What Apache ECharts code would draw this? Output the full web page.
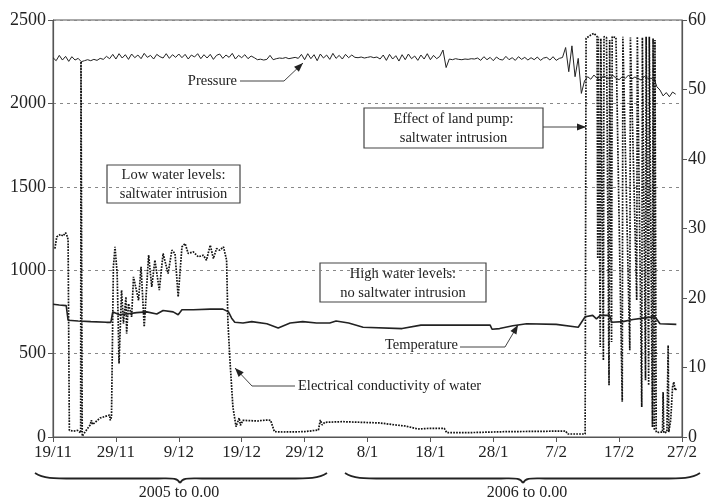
<!DOCTYPE html>
<html>
<head>
<meta charset="utf-8">
<script src="https://cdn.jsdelivr.net/npm/echarts@6/dist/echarts.min.js"></script>
<style>
  html, body { margin: 0; padding: 0; background: #fff; }
  #chart { width: 709px; height: 501px; }
</style>
</head>
<body>
<div id="chart"></div>
<script>
// x axis: days since 19/11/2005
const xLabels = ["19/11", "29/11", "9/12", "19/12", "29/12", "8/1", "18/1", "28/1", "7/2", "17/2", "27/2"];
const leftTicks = [0, 500, 1000, 1500, 2000, 2500];
const rightTicks = [0, 10, 20, 30, 40, 50, 60];

// pressure, one reading every half day (left axis)
const pressureStep = 0.5;
const pressureValues = [
  2274, 2256, 2288, 2260, 2282, 2252, 2280, 2260, 2270,
  2250, 2256, 2262, 2256, 2264, 2258, 2270, 2264,
  2282, 2268, 2294, 2266, 2298, 2272, 2292, 2264, 2296, 2274, 2290, 2268,
  2300, 2276, 2288, 2266, 2294, 2280, 2272, 2298, 2270, 2292, 2276, 2296,
  2274, 2294, 2266, 2290, 2278, 2298, 2268, 2292, 2272, 2294, 2264, 2288,
  2296, 2270, 2290, 2276, 2300, 2266, 2288, 2274, 2292, 2268, 2284, 2274,
  2262, 2265, 2260, 2264, 2288,
  2262, 2268, 2272, 2270, 2275, 2268, 2272, 2276, 2270,
  2294, 2262, 2298, 2268, 2292, 2256, 2296, 2272, 2290, 2264, 2300, 2270, 2288, 2266, 2294, 2274, 2290,
  2276, 2274, 2278, 2272, 2276, 2280, 2274, 2278,
  2266, 2290, 2258, 2294, 2266, 2286, 2254, 2292, 2262, 2296, 2268, 2284, 2258, 2290, 2266, 2298, 2262, 2288, 2268, 2282,
  2320, 2215,
  2266, 2262, 2268, 2264, 2262, 2266, 2264, 2268, 2266,
  2272, 2258, 2280, 2262, 2276, 2256, 2278, 2264, 2260, 2282, 2262, 2274, 2258, 2280,
  2264, 2276, 2260, 2274, 2262, 2278, 2258, 2272, 2276, 2260, 2280, 2258, 2270,
  2275, 2335, 2190, 2345, 2160, 2270, 2060, 2135,
  2160, 2145, 2170, 2150, 2140, 2165, 2155, 2148, 2168, 2152, 2142, 2160, 2150, 2170, 2146, 2158, 2150, 2140, 2162, 2152, 2148, 2155,
  2100, 2080, 2045, 2065, 2040, 2068, 2055
];

// electrical conductivity [day, value] (left axis)
const conductivity = [
  [0.3, 1130], [0.6, 1200], [1.2, 1215], [1.6, 1205], [2.0, 1225], [2.3, 1200], [2.4, 1180],
  [2.6, 40], [3.2, 35], [3.9, 40], [4.4, 25], [4.45, 2250], [4.6, 2250], [4.65, 5],
  [4.9, 20], [5.9, 72], [6.1, 100], [6.3, 75], [7.5, 114], [9.0, 132], [9.1, 100], [9.3, 120],
  [9.6, 1020], [9.86, 1140], [10.2, 980], [10.5, 440], [10.9, 880], [11.2, 680], [11.6, 840],
  [11.7, 620], [12.0, 800], [12.5, 720], [12.8, 960], [13.6, 820], [14.0, 1020], [14.5, 660],
  [15.2, 1090], [15.7, 900], [16.2, 1060], [16.9, 880], [17.5, 1100], [18.3, 980], [18.9, 1120],
  [19.4, 1100], [19.9, 840], [20.5, 1140], [21.0, 1160], [21.5, 1100], [22.3, 1110], [23.1, 1080],
  [23.9, 1090], [24.4, 1060], [25.0, 1150], [25.5, 1070], [26.0, 1130], [26.5, 1120], [27.1, 1140],
  [27.6, 1060], [27.8, 700], [28.1, 480], [28.6, 180], [29.1, 62], [29.6, 114], [29.8, 70],
  [30.2, 100], [31.3, 98], [32.5, 96], [34.0, 102], [34.6, 100], [35.2, 32], [36.5, 30], [40.0, 32],
  [42.2, 42], [42.5, 102], [42.8, 72], [43.2, 88], [46.0, 92], [49.0, 88], [52.0, 84], [54.5, 72],
  [56.0, 66], [58.0, 48], [60.0, 52], [62.2, 52], [62.6, 26], [66.0, 26], [72.0, 32], [78.0, 34],
  [81.5, 36], [81.8, 18], [84.6, 18],
  [84.75, 2390], [85.5, 2410], [86.0, 2420], [86.5, 2400], [86.6, 1070], [86.7, 2400], [87.0, 540],
  [87.1, 2390], [87.5, 460], [87.6, 2400], [88.0, 2395], [88.4, 310], [88.5, 2380], [88.8, 570],
  [88.9, 2400], [89.5, 2395], [90.5, 212], [90.6, 2400], [91.7, 520], [91.8, 2395], [92.8, 820],
  [92.9, 2400], [93.6, 180], [93.7, 2395], [94.2, 340], [94.3, 2400], [94.7, 310], [94.8, 2400],
  [95.3, 60], [95.4, 2390], [95.6, 40], [95.7, 2380], [95.9, 30], [96.3, 28], [96.9, 30],
  [97.0, 270], [97.1, 25], [97.6, 30], [97.8, 550], [97.9, 30], [98.2, 100], [98.5, 300],
  [98.7, 330], [98.9, 280], [99.1, 290]
];

// temperature [day, value] (right axis)
const temperature = [
  [0, 19.1], [1.0, 19.0], [2.1, 18.9], [2.4, 16.8], [4.0, 16.7], [6.0, 16.6], [8.5, 16.5], [9.2, 16.5],
  [9.5, 18.0], [10.6, 17.6], [11.7, 17.7], [13.3, 17.9], [14.9, 18.0], [16.5, 17.7], [17.5, 18.2],
  [19.1, 18.0], [19.9, 17.6], [20.5, 18.3], [22.3, 18.3], [25.0, 18.4], [27.0, 18.4], [27.9, 18.0],
  [28.4, 17.1], [28.9, 16.5], [30.2, 16.4], [31.6, 16.6], [34.0, 16.3], [35.8, 15.7], [37.7, 16.4],
  [39.7, 16.6], [41.9, 16.4], [44.0, 16.4], [45.0, 16.7], [47.0, 16.4], [49.3, 15.8], [55.5, 15.6],
  [58.5, 16.1], [62.0, 16.1], [65.6, 16.1], [69.5, 16.1], [69.8, 15.5], [71.0, 15.6], [73.1, 16.0],
  [75.3, 16.3], [80.0, 16.2], [83.5, 15.8], [84.6, 17.3], [85.8, 17.5], [86.4, 17.0], [87.0, 17.5],
  [88.5, 17.5], [88.8, 16.5], [90.6, 16.6], [92.2, 16.9], [93.8, 17.1], [95.7, 17.3], [96.5, 16.3],
  [99.1, 16.2]
];

const serif = '"Liberation Serif", "DejaVu Serif", serif';
const ink = "#222";
const axisGrey = "#555";

const pressure = pressureValues.map((v, i) => [i * pressureStep, v]);

function arrowHead(tipX, tipY, fromX, fromY) {
  const a = Math.atan2(tipY - fromY, tipX - fromX);
  const len = 9, half = 3.5;
  const bx = tipX - len * Math.cos(a), by = tipY - len * Math.sin(a);
  return {
    type: "polygon",
    shape: { points: [[tipX, tipY], [bx + half * Math.sin(a), by - half * Math.cos(a)], [bx - half * Math.sin(a), by + half * Math.cos(a)]] },
    style: { fill: ink },
  };
}

function leader(points) {
  const n = points.length;
  return [
    { type: "polyline", shape: { points: points }, style: { stroke: "#444", lineWidth: 1, fill: null } },
    arrowHead(points[n - 1][0], points[n - 1][1], points[n - 2][0], points[n - 2][1]),
  ];
}

function box(x, y, w, h, text) {
  return [
    { type: "rect", shape: { x: x, y: y, width: w, height: h }, style: { fill: "#fff", stroke: "#444", lineWidth: 1.2 } },
    { type: "text", style: { text: text, x: x + w / 2, y: y + h / 2 + 1, align: "center", verticalAlign: "middle", font: "14.5px " + serif, lineHeight: 19, fill: ink } },
  ];
}

function label(text, x, y, align) {
  return { type: "text", style: { text: text, x: x, y: y, align: align, verticalAlign: "middle", font: "14.5px " + serif, fill: ink } };
}

function curve(x1, y1, cx1, cy1, cx2, cy2, x2, y2) {
  return { type: "bezierCurve", shape: { x1: x1, y1: y1, cpx1: cx1, cpy1: cy1, cpx2: cx2, cpy2: cy2, x2: x2, y2: y2 }, style: { stroke: ink, lineWidth: 1.8, fill: null } };
}

function straight(x1, y1, x2, y2) {
  return { type: "line", shape: { x1: x1, y1: y1, x2: x2, y2: y2 }, style: { stroke: ink, lineWidth: 1.8 } };
}

function brace(x1, xc, x2) {
  const y0 = 473, y1 = 478.5, tip = 483;
  return [
    curve(x1, y0, x1 + 8, y1, x1 + 18, y1, x1 + 40, y1),
    straight(x1 + 40, y1, xc - 22, y1),
    curve(xc - 22, y1, xc - 8, y1, xc - 3, y1 - 1, xc, tip),
    curve(xc, tip, xc + 3, y1 - 1, xc + 8, y1, xc + 22, y1),
    straight(xc + 22, y1, x2 - 40, y1),
    curve(x2 - 40, y1, x2 - 18, y1, x2 - 8, y1, x2, y0),
  ];
}

const chart = echarts.init(document.getElementById("chart"));
chart.setOption({
  animation: false,
  backgroundColor: "#fff",
  grid: { left: 53, right: 27, top: 20, bottom: 64, show: true, borderColor: axisGrey, borderWidth: 1, outerBoundsMode: "none" },
  xAxis: {
    type: "value", min: 0, max: 100, interval: 10,
    axisLine: { show: true, lineStyle: { color: axisGrey, width: 1.2 } },
    axisTick: { show: true, inside: false, length: 5, lineStyle: { color: axisGrey } },
    axisLabel: { formatter: (v) => xLabels[Math.round(v / 10)], fontFamily: serif, fontSize: 17, color: ink, margin: 7 },
    splitLine: { show: false },
  },
  yAxis: [
    {
      type: "value", min: leftTicks[0], max: leftTicks[leftTicks.length - 1], interval: 500,
      axisLine: { show: true, lineStyle: { color: axisGrey, width: 1.2 } },
      axisTick: { show: true, inside: false, length: 5, lineStyle: { color: axisGrey } },
      axisLabel: { formatter: (v) => String(v), fontFamily: serif, fontSize: 18, color: ink, margin: 7 },
      splitLine: { show: true, lineStyle: { color: "#888", width: 1, type: [3, 4] } },
    },
    {
      type: "value", position: "right", min: rightTicks[0], max: rightTicks[rightTicks.length - 1], interval: 10,
      axisLine: { show: true, lineStyle: { color: axisGrey, width: 1.2 } },
      axisTick: { show: true, inside: false, length: 5, lineStyle: { color: axisGrey } },
      axisLabel: { formatter: (v) => String(v), fontFamily: serif, fontSize: 18, color: ink, margin: 6 },
      splitLine: { show: false },
    },
  ],
  series: [
    { name: "Pressure", type: "line", yAxisIndex: 0, data: pressure, showSymbol: false, lineStyle: { color: ink, width: 1 } },
    { name: "Electrical conductivity of water", type: "line", yAxisIndex: 0, data: conductivity, showSymbol: false, lineStyle: { color: "#111", width: 1.7, type: [1.7, 1.2] } },
    { name: "Temperature", type: "line", yAxisIndex: 1, data: temperature, showSymbol: false, lineStyle: { color: ink, width: 1.6 } },
  ],
  graphic: [].concat(
    box(107, 165, 133, 38, "Low water levels:\nsaltwater intrusion"),
    box(364, 108, 179, 40, "Effect of land pump:\nsaltwater intrusion"),
    box(320, 263, 166, 39, "High water levels:\nno saltwater intrusion"),
    [label("Pressure", 237, 81, "right")],
    leader([[240, 81], [284, 81], [303, 63]]),
    [label("Temperature", 458, 345, "right")],
    leader([[460, 347], [505, 347], [518, 325]]),
    [label("Electrical conductivity of water", 298, 386, "left")],
    leader([[295, 386], [252, 386], [235, 368]]),
    leader([[543, 127], [586, 127]]),
    brace(35, 180, 327),
    brace(345, 523, 700),
    [
      { type: "text", style: { text: "2005 to 0.00", x: 179, y: 493, align: "center", verticalAlign: "middle", font: "16px " + serif, fill: ink } },
      { type: "text", style: { text: "2006 to 0.00", x: 527, y: 493, align: "center", verticalAlign: "middle", font: "16px " + serif, fill: ink } },
    ]
  ),
});
</script>
</body>
</html>
